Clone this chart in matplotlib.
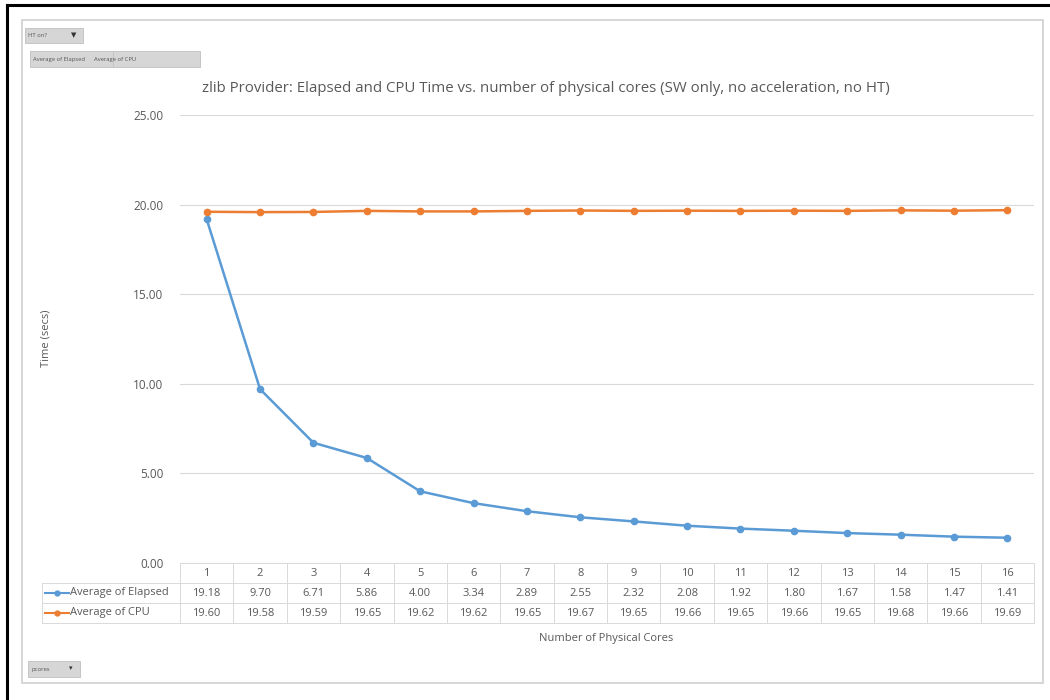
import matplotlib
matplotlib.use("Agg")
import matplotlib.pyplot as plt
from matplotlib.patches import Rectangle
from matplotlib.lines import Line2D
from matplotlib.transforms import blended_transform_factory

plt.rcParams['font.family'] = ['Open Sans', 'DejaVu Sans']

# Data
cores = list(range(1, 17))
elapsed = [19.18, 9.70, 6.71, 5.86, 4.00, 3.34, 2.89, 2.55, 2.32, 2.08, 1.92, 1.80, 1.67, 1.58, 1.47, 1.41]
cpu = [19.60, 19.58, 19.59, 19.65, 19.62, 19.62, 19.65, 19.67, 19.65, 19.66, 19.65, 19.66, 19.65, 19.68, 19.66, 19.69]
series_names = ["Average of Elapsed", "Average of CPU"]
yticks = [0, 5, 10, 15, 20, 25]

W, H = 1050, 700
blue = '#5B9BD5'
orange = '#ED7D31'
txt = '#595959'
grid = '#D9D9D9'

fig = plt.figure(figsize=(10.5, 7), dpi=100)

def fx(px):
    return px / W

def fy(py):
    return 1 - py / H

# outer frame bits and the pivot chart panel
fig.add_artist(Line2D([fx(7), fx(7)], [0, fy(5)], color='black', lw=2.2, transform=fig.transFigure))
fig.add_artist(Line2D([fx(7), 1], [fy(5), fy(5)], color='black', lw=2.2, transform=fig.transFigure))
fig.add_artist(Rectangle((fx(22), fy(683)), fx(1043 - 22), (683 - 20) / H, transform=fig.transFigure,
                         fill=False, edgecolor='#D0D0D0', lw=1.2))

# pivot field buttons
def button(x0, y0, x1, y1, label, arrow=None):
    fig.add_artist(Rectangle((fx(x0), fy(y1)), fx(x1 - x0), (y1 - y0) / H, transform=fig.transFigure,
                             facecolor='#D6D6D6', edgecolor='#C0C0C0', lw=0.6))
    fig.text(fx(x0 + 3), fy((y0 + y1) / 2), label, fontsize=4.2, color='#555555', va='center', ha='left')
    if arrow:
        fig.text(fx(x1 - 9), fy((y0 + y1) / 2), arrow, fontsize=5, color='#333333', va='center', ha='center')

button(25, 28, 83, 43, "HT on?", "\u25BC")
button(30, 51, 200, 67, "Average of Elapsed      Average of CPU")
fig.add_artist(Line2D([fx(113), fx(113)], [fy(52), fy(66)], color='#C0C0C0', lw=0.6, transform=fig.transFigure))
button(28, 661, 80, 677, "pcores", "\u25BE")

# plot area
ax_l, ax_r, ax_t, ax_b = 180, 1034, 115, 563
ax = fig.add_axes([fx(ax_l), fy(ax_b), fx(ax_r - ax_l), (ax_b - ax_t) / H])
ax.plot(cores, elapsed, color=blue, lw=1.8, marker='o', markersize=4.5, zorder=3)
ax.plot(cores, cpu, color=orange, lw=1.8, marker='o', markersize=4.5, zorder=3)
ax.set_xlim(0.5, 16.5)
ax.set_ylim(0, 25)
ax.set_yticks(yticks)
ax.set_yticklabels([f"{v:.2f}" for v in yticks], fontsize=8.5, color=txt)
ax.set_xticks([])
ax.tick_params(axis='y', length=0, pad=12)
ax.grid(axis='y', color=grid, lw=0.8)
ax.set_axisbelow(True)
for s in ax.spines.values():
    s.set_visible(False)

fig.text(fx(546), fy(88), "zlib Provider: Elapsed and CPU Time vs. number of physical cores (SW only, no acceleration, no HT)",
         fontsize=10.8, color=txt, ha='center', va='center')
fig.text(fx(46), fy(338), "Time (secs)", fontsize=8, color=txt, rotation=90, ha='center', va='center')
fig.text(fx(606), fy(638), "Number of Physical Cores", fontsize=8, color=txt, ha='center', va='center')

# data table below the axis
tr = blended_transform_factory(ax.transData, fig.transFigure)
rows_y = [563, 583, 603, 623]
for i, c in enumerate(cores):
    ax.text(c, fy(573), str(c), transform=tr, fontsize=8, color=txt, ha='center', va='center', clip_on=False)
    ax.text(c, fy(593), f"{elapsed[i]:.2f}", transform=tr, fontsize=8, color=txt, ha='center', va='center', clip_on=False)
    ax.text(c, fy(613), f"{cpu[i]:.2f}", transform=tr, fontsize=8, color=txt, ha='center', va='center', clip_on=False)
for k in range(17):
    fig.add_artist(Line2D([fx(ax_l + k * (ax_r - ax_l) / 16)] * 2, [fy(563), fy(623)], color=grid, lw=0.7,
                          transform=fig.transFigure))
for y in rows_y:
    fig.add_artist(Line2D([fx(ax_l), fx(ax_r)], [fy(y), fy(y)], color=grid, lw=0.7, transform=fig.transFigure))
for y in rows_y[1:]:
    fig.add_artist(Line2D([fx(42), fx(ax_l)], [fy(y), fy(y)], color=grid, lw=0.7, transform=fig.transFigure))
fig.add_artist(Line2D([fx(42), fx(42)], [fy(583), fy(623)], color=grid, lw=0.7, transform=fig.transFigure))

for name, col, y in [(series_names[0], blue, 593), (series_names[1], orange, 613)]:
    fig.add_artist(Line2D([fx(45), fx(69)], [fy(y), fy(y)], color=col, lw=1.5, marker=None,
                          transform=fig.transFigure))
    fig.add_artist(Line2D([fx(57)], [fy(y)], color=col, marker='o', markersize=3.5, transform=fig.transFigure))
    fig.text(fx(70), fy(y), name, fontsize=8, color=txt, ha='left', va='center')

fig.savefig("out.png", dpi=100, facecolor='white')
